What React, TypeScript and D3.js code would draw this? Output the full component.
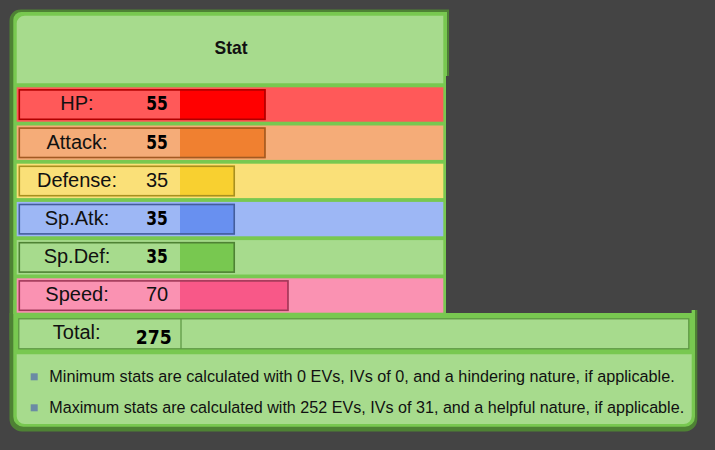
import React, { useLayoutEffect, useRef, useState } from "react";
import * as d3 from "d3";

const statNames = ["HP", "Attack", "Defense", "Sp.Atk", "Sp.Def", "Speed"];
const statValues = [55, 55, 35, 35, 35, 70];
const totalLabel = "Total";
const totalValue = 275;
const headerText = "Stat";
const notes = [
  "Minimum stats are calculated with 0 EVs, IVs of 0, and a hindering nature, if applicable.",
  "Maximum stats are calculated with 252 EVs, IVs of 31, and a helpful nature, if applicable.",
];

// colour themes (main, light, dark) per stat
const mainColors = ["#FF0000", "#F08030", "#F8D030", "#6890F0", "#78C850", "#F85888"];
const lightColors = ["#FF5959", "#F5AC78", "#FAE078", "#9DB7F5", "#A7DB8D", "#FA92B2"];
const darkColors = ["#B00000", "#A35A22", "#A8901F", "#445E9C", "#4E8234", "#A13959"];
const boldValueStats = ["HP", "Attack", "Sp.Atk", "Sp.Def"];

const G_DARK = "#4E8234";
const G_MID = "#78C850";
const G_LIGHT = "#A7DB8D";
const BG = "#444444";
const SANS = "'Liberation Sans', Arial, sans-serif";
const BOLDNUM = "'DejaVu Sans', Verdana, sans-serif";
const noteWidths = [625, 635];

function FitText(props: { x: number; y: number; width: number; text: string; size: number }) {
  const ref = useRef<SVGTextElement | null>(null);
  const [sx, setSx] = useState(0.85);
  useLayoutEffect(() => {
    if (ref.current) {
      const natural = ref.current.getComputedTextLength();
      if (natural > 0) setSx(props.width / natural);
    }
  }, [props.text, props.width]);
  return (
    <g transform={`translate(${props.x},${props.y}) scale(${sx},1)`}>
      <text ref={ref} x={0} y={0} fontFamily={SANS} fontSize={props.size} fill="#111">
        {props.text}
      </text>
    </g>
  );
}

export default function App() {
  const y = d3
    .scaleBand<string>()
    .domain(statNames)
    .range([87.3, 312.7])
    .paddingInner(0.0995)
    .paddingOuter(0);
  const w = d3.scaleLinear().domain([0, 255]).range([1.3, 392.7]);
  const rowH = y.bandwidth();
  const barX = 180;

  return (
    <svg
      width={715}
      height={450}
      style={{ position: "fixed", left: 0, top: 0, display: "block" }}
    >
      <rect x={0} y={0} width={715} height={450} fill={BG} />

      {/* top piece */}
      <path d="M9.5,340 V20.5 A11,11 0 0 1 20.5,9.5 H449 V12 H446 V340 Z" fill={G_DARK} />
      <path d="M13.3,340 V20 A8,8 0 0 1 21.3,12 H446 V340 Z" fill={G_MID} />
      <rect x={446} y={12} width={1.3} height={64} fill={G_MID} />
      <rect x={447.3} y={12} width={1.7} height={64} fill={G_DARK} />

      {/* bottom piece */}
      <path
        d="M9.5,300 V419 A12.5,12.5 0 0 0 22,431.5 H685 A12.5,12.5 0 0 0 697.3,419 V310 H691.7 V313 H9.5 Z"
        fill={G_DARK}
      />
      <path
        d="M13.3,313 H691.7 V310 H695 V416.7 A10,10 0 0 1 685,426.7 H23.3 A10,10 0 0 1 13.3,416.7 Z"
        fill={G_MID}
      />
      <rect x={13.3} y={300} width={432.7} height={14} fill={G_MID} />

      {/* header */}
      <path d="M16.7,83.3 V23.7 A8,8 0 0 1 24.7,15.7 H443.3 V83.3 Z" fill={G_LIGHT} />
      <text
        x={231}
        y={54.3}
        textAnchor="middle"
        fontFamily={SANS}
        fontWeight="bold"
        fontSize={19}
        textLength={33}
        lengthAdjust="spacingAndGlyphs"
        fill="#111"
      >
        {headerText}
      </text>

      {/* stat rows */}
      {statNames.map((name, i) => {
        const top = y(name) as number;
        const bw = w(statValues[i]);
        const bold = boldValueStats.includes(name);
        return (
          <g key={name}>
            <rect x={16.7} y={top} width={426.6} height={rowH} fill={lightColors[i]} />
            <rect x={barX} y={top + 1.8} width={bw} height={31} fill={mainColors[i]} />
            <rect
              x={18.5 + 0.8}
              y={top + 1.8 + 0.8}
              width={barX + bw - 18.5 - 1.6}
              height={31 - 1.6}
              fill="none"
              stroke={darkColors[i]}
              strokeWidth={1.6}
            />
            <text
              x={77}
              y={top + 23}
              textAnchor="middle"
              fontFamily={SANS}
              fontSize={20}
              fill="#111"
            >
              {name + ":"}
            </text>
            {bold ? (
              <text
                x={157}
                y={top + 23}
                textAnchor="middle"
                fontFamily={BOLDNUM}
                fontWeight="bold"
                fontSize={19}
                textLength={21.6}
                lengthAdjust="spacingAndGlyphs"
                fill="#000"
              >
                {String(statValues[i])}
              </text>
            ) : (
              <text
                x={157}
                y={top + 23}
                textAnchor="middle"
                fontFamily={SANS}
                fontSize={20}
                fill="#111"
              >
                {String(statValues[i])}
              </text>
            )}
          </g>
        );
      })}

      {/* total row */}
      <rect
        x={18.8}
        y={318.8}
        width={670}
        height={30}
        fill={G_LIGHT}
        stroke="#5A9440"
        strokeWidth={1.2}
      />
      <line x1={181} x2={181} y1={318.8} y2={348.8} stroke="#5A9440" strokeWidth={1.2} />
      <text x={76.7} y={339} textAnchor="middle" fontFamily={SANS} fontSize={20} fill="#111">
        {totalLabel + ":"}
      </text>
      <text
        x={153.7}
        y={344}
        textAnchor="middle"
        fontFamily={BOLDNUM}
        fontWeight="bold"
        fontSize={19}
        textLength={36}
        lengthAdjust="spacingAndGlyphs"
        fill="#000"
      >
        {String(totalValue)}
      </text>

      {/* notes */}
      <path
        d="M16.7,354.3 H691.7 V416 A8,8 0 0 1 683.7,424 H24.7 A8,8 0 0 1 16.7,416 Z"
        fill={G_LIGHT}
      />
      {notes.map((t, i) => (
        <g key={i}>
          <rect x={30.7} y={373.3 + i * 31} width={7} height={7} fill="#6B8BA4" />
          <FitText x={49.3} y={382.3 + i * 31} width={noteWidths[i]} text={t} size={17} />
        </g>
      ))}
    </svg>
  );
}
